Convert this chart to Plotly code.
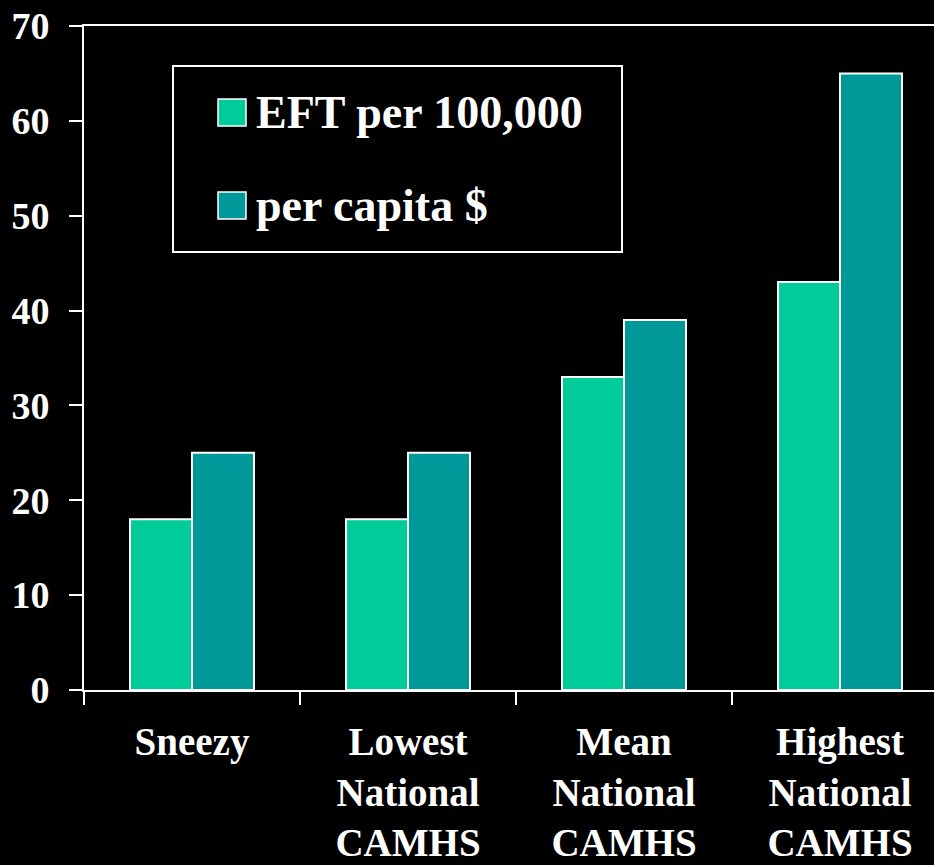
import plotly.graph_objects as go

categories = ["Sneezy", "Lowest<br>National<br>CAMHS", "Mean<br>National<br>CAMHS", "Highest<br>National<br>CAMHS"]
series_names = ["EFT per 100,000", "per capita $"]
eft_values = [18, 18, 33, 43]
capita_values = [25, 25, 39, 65]
colors = ["#00CC99", "#009999"]
y_ticks = [0, 10, 20, 30, 40, 50, 60, 70]

W, H = 934, 865
L, T, B = 84, 26, 690  # plot area pixel edges
R = W

def px(x):
    return (x - L) / (R - L)

def py(y):
    return (B - y) / (B - T)

FONT = "Liberation Serif"

fig = go.Figure()
for name, vals, col in zip(series_names, [eft_values, capita_values], colors):
    fig.add_trace(go.Bar(
        x=categories, y=vals, name=name,
        marker=dict(color=col, line=dict(color="white", width=2)),
        showlegend=False,
    ))

# manual legend
shapes = [dict(type="rect", xref="paper", yref="paper",
               x0=px(173), x1=px(622), y0=py(252), y1=py(66),
               line=dict(color="white", width=2), fillcolor="black", layer="below")]
annotations = []
rows = [(99, 126, 113), (192, 219, 205)]
for (s0, s1, tc), name, col in zip(rows, series_names, colors):
    shapes.append(dict(type="rect", xref="paper", yref="paper",
                       x0=px(218), x1=px(246), y0=py(s1), y1=py(s0),
                       line=dict(color="white", width=1.5), fillcolor=col))
    annotations.append(dict(xref="paper", yref="paper", x=px(254), y=py(tc),
                            xanchor="left", yanchor="middle", showarrow=False,
                            text="<b>" + name + "</b>",
                            font=dict(family=FONT, size=46, color="white")))

fig.update_layout(
    width=W, height=H,
    margin=dict(l=L, r=W - R, t=T, b=H - B, autoexpand=False),
    paper_bgcolor="black", plot_bgcolor="black",
    barmode="group", bargap=0.426, bargroupgap=0,
    shapes=shapes, annotations=annotations,
    font=dict(family=FONT, color="white"),
    xaxis=dict(
        range=[-0.5, 3.5 - 14 / 216], automargin=False,
        showline=True, linecolor="white", linewidth=2, mirror=True,
        ticks="outside", tickson="boundaries", ticklen=13, tickwidth=2, tickcolor="white",
        tickfont=dict(family=FONT, size=39, color="white", weight="bold"),
        ticklabelstandoff=16,
        showgrid=False, zeroline=False, fixedrange=True,
    ),
    yaxis=dict(
        range=[0, 70], tickvals=y_ticks, automargin=False,
        showline=True, linecolor="white", linewidth=2,
        ticks="outside", ticklen=13, tickwidth=2, tickcolor="white",
        tickfont=dict(family=FONT, size=38, color="white", weight="bold"),
        ticklabelstandoff=12,
        showgrid=False, zeroline=False, fixedrange=True,
    ),
)

fig.write_html("out.html", config={"displayModeBar": False})
